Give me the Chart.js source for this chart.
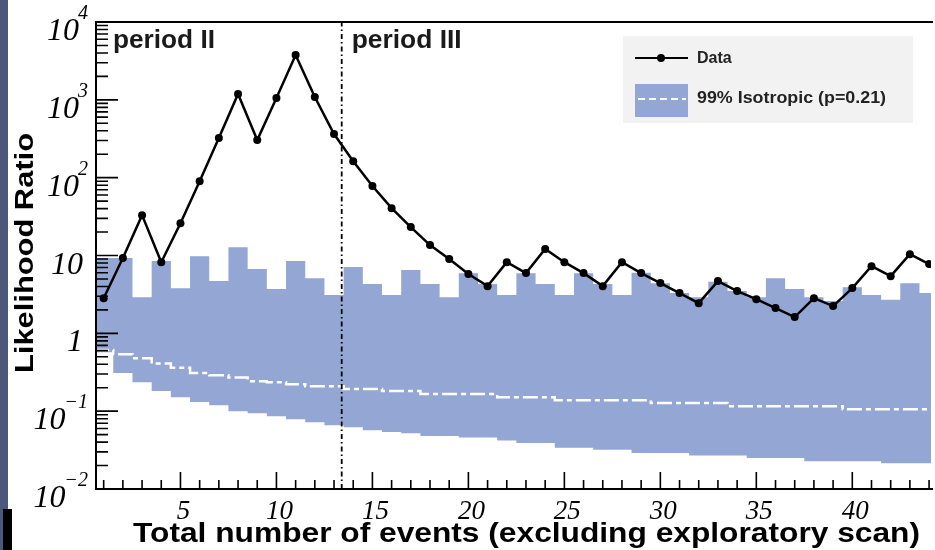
<!DOCTYPE html>
<html>
<head>
<meta charset="utf-8">
<script src="https://cdn.jsdelivr.net/npm/chart.js@4/dist/chart.umd.min.js"></script>
<style>
  html, body { margin: 0; padding: 0; background: #fff; }
  #wrap { width: 935px; height: 550px; position: relative; }
</style>
</head>
<body>
<div id="wrap"><canvas id="myChart" width="935" height="550"></canvas></div>
<script>
// number of events (bin centres)
const events = [1, 2, 3, 4, 5, 6, 7, 8, 9, 10, 11, 12, 13, 14, 15, 16, 17, 18, 19, 20, 21, 22,
                23, 24, 25, 26, 27, 28, 29, 30, 31, 32, 33, 34, 35, 36, 37, 38, 39, 40, 41, 42, 43, 44];

// likelihood ratio of the data
const dataLR = [2.83, 9.3, 33, 8.2, 26, 90, 323, 1188, 304, 1055, 3766, 1086, 363, 163, 78, 40.6,
                23.2, 13.6, 9.0, 5.77, 4.04, 8.2, 5.94, 12.1, 8.2, 5.94, 4.04, 8.2, 5.94, 4.42, 3.29,
                2.44, 4.69, 3.49, 2.75, 2.11, 1.62, 2.83, 2.24, 3.81, 7.3, 5.43, 10.4, 7.76];

// 99% isotropic band: upper / lower edge and median
const isoUpper = [9.3, 9.3, 2.9, 8.5, 3.8, 9.8, 4.7, 12.8, 6.7, 3.7, 8.5, 5.1, 3.1, 7.1, 4.3, 3.1,
                  6.5, 4.3, 2.9, 5.9, 4.3, 3.1, 5.9, 4.3, 3.1, 5.9, 4.3, 3.1, 6.0, 4.4, 3.3, 2.9,
                  4.6, 3.5, 2.9, 5.1, 3.7, 2.9, 2.6, 3.9, 3.1, 2.7, 4.4, 3.3];
const isoLower = [0.57, 0.31, 0.236, 0.181, 0.151, 0.131, 0.119, 0.1, 0.094, 0.086, 0.079, 0.072,
                  0.066, 0.062, 0.057, 0.054, 0.052, 0.048, 0.048, 0.046, 0.046, 0.042, 0.039,
                  0.039, 0.034, 0.034, 0.032, 0.032, 0.029, 0.029, 0.029, 0.027, 0.027, 0.027,
                  0.025, 0.025, 0.025, 0.0228, 0.0228, 0.0228, 0.0228, 0.0215, 0.0215, 0.0215];
const isoMedian = [0.61, 0.54, 0.48, 0.41, 0.36, 0.31, 0.29, 0.27, 0.243, 0.235, 0.222, 0.209,
                   0.209, 0.192, 0.192, 0.181, 0.181, 0.166, 0.166, 0.166, 0.166, 0.151, 0.151,
                   0.151, 0.138, 0.138, 0.138, 0.138, 0.138, 0.127, 0.127, 0.127, 0.127, 0.116,
                   0.116, 0.116, 0.116, 0.116, 0.116, 0.106, 0.106, 0.106, 0.106, 0.106];

// boundary between period II and period III
const periodBoundary = 13.4;

// tick labels
const xTickValues = [5, 10, 15, 20, 25, 30, 35, 40];
const yTickValues = [1e4, 1e3, 1e2, 10, 1, 0.1, 0.01];
const yTickBase = ['10', '10', '10', '10', '1', '10', '10'];
const yTickExp = ['4', '3', '2', '', '', '\u22121', '\u22122'];

const bandColor = '#93a6d4';

// histogram steps: one point at each lower bin edge, plus the last upper edge
function steps(values) {
    const pts = events.map((n, i) => ({ x: n - 0.5, y: values[i] }));
    pts.push({ x: events[events.length - 1] + 0.5, y: values[values.length - 1] });
    return pts;
}

const decor = {
    id: 'decor',
    afterDraw(chart) {
        const ctx = chart.ctx;
        const a = chart.chartArea;
        const xs = chart.scales.x;
        const ys = chart.scales.y;
        ctx.save();

        // frame
        ctx.strokeStyle = '#000';
        ctx.lineWidth = 2;
        ctx.beginPath();
        ctx.moveTo(a.right + 2, a.top);
        ctx.lineTo(a.left, a.top);
        ctx.lineTo(a.left, a.bottom);
        ctx.lineTo(a.right + 2, a.bottom);
        ctx.stroke();

        // x ticks (inward)
        ctx.lineWidth = 1.6;
        ctx.beginPath();
        for (let n = 1; n <= 44; n++) {
            const px = xs.getPixelForValue(n);
            const len = n % 5 === 0 ? 17 : 9;
            ctx.moveTo(px, a.bottom);
            ctx.lineTo(px, a.bottom - len);
        }
        // y ticks (inward)
        for (let e = -2; e <= 4; e++) {
            for (let m = 1; m <= 9; m++) {
                const v = m * Math.pow(10, e);
                if (v > 1e4) break;
                const py = ys.getPixelForValue(v);
                const len = m === 1 ? 22 : 12;
                ctx.moveTo(a.left, py);
                ctx.lineTo(a.left + len, py);
            }
        }
        ctx.stroke();

        // x tick labels
        ctx.fillStyle = '#000';
        ctx.font = 'italic 27px "Liberation Serif"';
        ctx.textAlign = 'center';
        ctx.textBaseline = 'alphabetic';
        xTickValues.forEach(v => {
            ctx.fillText(String(v), xs.getPixelForValue(v) + 3, 519);
        });

        // y tick labels with superscripts
        yTickValues.forEach((v, i) => {
            const py = ys.getPixelForValue(v);
            ctx.font = 'italic 20px "Liberation Serif"';
            const ew = yTickExp[i] ? ctx.measureText(yTickExp[i]).width : 0;
            const right = yTickExp[i] ? 88 : 82;
            if (yTickExp[i]) {
                ctx.textAlign = 'right';
                ctx.fillText(yTickExp[i], right, py - 3);
            }
            ctx.font = 'italic 32px "Liberation Serif"';
            ctx.textAlign = 'right';
            ctx.fillText(yTickBase[i], right - ew + 1, py + 18);
        });

        // axis titles
        ctx.font = 'bold 27px "Liberation Sans"';
        ctx.textAlign = 'left';
        let t = 'Total number of events (excluding exploratory scan)';
        let w = ctx.measureText(t).width;
        ctx.save();
        ctx.translate(133, 542);
        ctx.scale(787 / w, 1);
        ctx.fillText(t, 0, 0);
        ctx.restore();

        ctx.font = 'bold 25px "Liberation Sans"';
        t = 'Likelihood Ratio';
        w = ctx.measureText(t).width;
        ctx.save();
        ctx.translate(33, 253);
        ctx.rotate(-Math.PI / 2);
        ctx.scale(240 / w, 1);
        ctx.textAlign = 'center';
        ctx.fillText(t, 0, 0);
        ctx.restore();

        // period labels
        ctx.fillStyle = '#1a1a1a';
        ctx.font = 'bold 25px "Liberation Sans"';
        ctx.textAlign = 'left';
        [['period II', a.left + 17, 102], ['period III', xs.getPixelForValue(periodBoundary) + 10, 110]]
            .forEach(([s, x0, tw]) => {
                const mw = ctx.measureText(s).width;
                ctx.save();
                ctx.translate(x0, 48);
                ctx.scale(tw / mw, 1);
                ctx.fillText(s, 0, 0);
                ctx.restore();
            });

        // legend
        ctx.fillStyle = '#f2f2f2';
        ctx.fillRect(623, 36, 290, 87);
        ctx.strokeStyle = '#000';
        ctx.lineWidth = 2;
        ctx.beginPath();
        ctx.moveTo(635, 58);
        ctx.lineTo(688, 58);
        ctx.stroke();
        ctx.fillStyle = '#000';
        ctx.beginPath();
        ctx.arc(661, 58, 4, 0, Math.PI * 2);
        ctx.fill();
        ctx.fillStyle = bandColor;
        ctx.fillRect(635, 84, 53, 33);
        ctx.strokeStyle = '#fff';
        ctx.setLineDash([7, 4]);
        ctx.beginPath();
        ctx.moveTo(638, 99);
        ctx.lineTo(686, 99);
        ctx.stroke();
        ctx.setLineDash([]);
        ctx.fillStyle = '#222';
        ctx.font = 'bold 16px "Liberation Sans"';
        ctx.textBaseline = 'middle';
        ctx.fillText('Data', 697, 59);
        t = '99% Isotropic (p=0.21)';
        w = ctx.measureText(t).width;
        ctx.save();
        ctx.translate(697, 99);
        ctx.scale(189 / w, 1);
        ctx.fillText(t, 0, 0);
        ctx.restore();

        // page edge strips
        ctx.fillStyle = '#4b587c';
        ctx.fillRect(0, 0, 8, 550);
        ctx.fillStyle = '#000';
        ctx.fillRect(3, 509, 9, 41);

        ctx.restore();
    }
};

new Chart(document.getElementById('myChart'), {
    type: 'line',
    data: {
        datasets: [
            {
                data: events.map((n, i) => ({ x: n, y: dataLR[i] })),
                borderColor: '#000',
                borderWidth: 2.5,
                pointRadius: 4,
                pointBackgroundColor: '#000',
                pointBorderWidth: 0,
                tension: 0
            },
            {
                data: [{ x: periodBoundary, y: 0.01 }, { x: periodBoundary, y: 1e4 }],
                borderColor: '#000',
                borderWidth: 1.8,
                borderDash: [5, 3, 1.5, 3],
                pointRadius: 0
            },
            {
                data: steps(isoMedian),
                stepped: 'before',
                borderColor: '#fff',
                borderWidth: 2.5,
                borderDash: [15, 4, 5, 4],
                pointRadius: 0
            },
            {
                data: steps(isoUpper),
                stepped: 'before',
                borderWidth: 0,
                borderColor: 'rgba(0,0,0,0)',
                backgroundColor: bandColor,
                fill: '+1',
                pointRadius: 0
            },
            {
                data: steps(isoLower),
                stepped: 'before',
                borderWidth: 0,
                borderColor: 'rgba(0,0,0,0)',
                pointRadius: 0
            }
        ]
    },
    options: {
        responsive: false,
        animation: false,
        layout: { padding: { left: 96, top: 22, bottom: 61, right: 0 } },
        plugins: { legend: { display: false }, tooltip: { enabled: false } },
        scales: {
            x: { type: 'linear', min: 0.6, max: 44.1, display: false },
            y: { type: 'logarithmic', min: 0.01, max: 1e4, display: false }
        }
    },
    plugins: [decor]
});
</script>
</body>
</html>
